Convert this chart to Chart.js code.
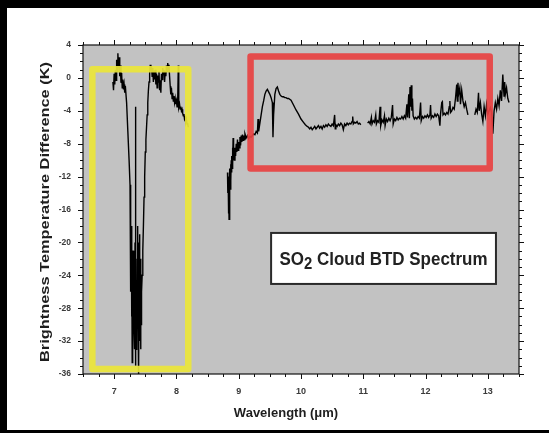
<!DOCTYPE html>
<html>
<head>
<meta charset="utf-8">
<script src="https://cdn.jsdelivr.net/npm/chart.js@4.4.1/dist/chart.umd.min.js"></script>
<style>
html,body{margin:0;padding:0;background:#000;}
canvas{display:block;}
</style>
</head>
<body>
<canvas id="c" width="549" height="433"></canvas>
<script>
// ---- Data (null = gap in the spectrum) ----
const wavelength = [
 6.98,6.99,7.00,7.01,7.02,7.03,7.04,7.05,7.06,7.07,7.08,7.09,7.10,7.11,7.12,7.13,7.14,7.15,7.16,7.17,
 7.18,7.20,7.22,7.24,7.255,7.26,7.265,7.27,7.275,7.28,7.285,7.29,7.295,7.30,7.305,7.31,7.315,7.32,7.325,7.33,
 7.335,7.34,7.345,7.35,7.355,7.36,7.365,7.37,7.375,7.38,7.385,7.39,7.395,7.40,7.405,7.41,7.415,7.42,7.425,7.43,
 7.435,7.44,7.45,7.46,7.47,7.48,7.49,7.50,7.51,7.52,7.53,7.54,7.55,7.56,7.57,7.58,7.59,7.60,7.61,7.62,
 7.63,7.64,7.65,7.66,7.67,7.68,7.69,7.70,7.71,7.72,7.73,7.74,7.75,7.76,7.77,7.78,7.79,7.80,7.81,7.82,
 7.83,7.84,7.85,7.86,7.87,7.88,7.89,7.90,7.91,7.92,7.93,7.94,7.95,7.96,7.97,7.98,7.99,8.00,8.01,8.02,
 8.03,8.035,8.04,8.05,8.06,8.07,8.08,8.09,8.10,8.11,8.12,8.13,8.14,8.15,8.16,8.17,8.18,8.19,
 8.50,
 8.82,8.825,8.83,8.835,8.84,8.845,8.85,8.855,8.86,8.865,8.87,8.875,8.88,8.885,8.89,8.895,8.90,8.905,8.91,8.915,
 8.92,8.93,8.94,8.95,8.96,8.97,8.98,8.99,9.00,9.01,9.02,9.03,9.04,9.05,9.06,9.07,9.08,9.09,9.10,9.12,
 9.14,9.16,9.18,9.20,9.22,9.24,9.26,9.28,9.30,9.31,9.32,9.34,9.36,9.38,9.40,9.42,9.44,9.46,9.48,9.50,
 9.52,9.54,9.55,9.56,9.58,9.60,9.62,9.64,9.66,9.68,9.70,9.72,9.74,9.76,9.78,9.80,9.84,9.88,9.92,9.96,
 10.00,10.04,10.07,10.10,10.12,10.14,10.16,10.18,10.20,10.22,10.24,10.26,10.28,10.30,10.32,10.34,10.36,10.38,10.40,10.42,
 10.44,10.46,10.48,10.50,10.52,10.54,10.55,10.56,10.58,10.60,10.62,10.64,10.66,10.68,10.70,10.72,10.74,10.76,10.78,10.80,
 10.82,10.83,10.84,10.86,10.88,10.90,10.92,10.94,10.96,
 11.02,
 11.07,11.09,11.11,11.13,11.14,11.16,11.18,11.20,11.21,11.23,11.25,11.27,11.28,11.30,11.32,11.34,11.35,11.37,11.39,11.41,
 11.43,11.45,11.47,11.48,11.50,11.52,11.54,11.56,11.58,11.60,11.62,11.64,11.66,11.68,11.70,11.71,11.73,11.74,11.75,11.76,
 11.77,11.78,11.79,11.80,11.82,11.84,11.86,11.88,11.90,11.92,11.93,11.95,11.97,11.99,12.01,12.03,12.05,12.07,12.08,12.09,
 12.11,12.13,12.15,12.17,12.19,12.21,12.23,12.24,12.26,12.27,12.28,12.30,12.32,12.34,12.36,12.38,12.39,12.40,12.42,12.44,
 12.46,12.48,12.50,12.51,12.52,12.53,12.55,12.56,12.58,12.60,12.62,12.64,12.66,12.68,
 12.73,
 12.79,12.81,12.83,12.85,12.86,12.88,12.90,12.92,12.94,12.96,12.98,13.00,13.02,13.04,13.06,13.08,13.10,13.12,13.14,13.16,
 13.18,13.20,13.22,13.24,13.25,13.26,13.27,13.28,13.30,13.32,13.34
];
const btd = [
 -0.5,-1.5,0.5,-0.8,1.0,-0.3,2.2,0.8,3.0,1.2,2.5,0.2,1.5,-0.6,0.6,-1.2,-0.2,-1.4,-0.8,-1.8,
 -1.0,-3,-6.5,-10,-13,-20,-15,-26,-18,-29,-22,-34.6,-25,-31,-21,-28,-24,-31,-27,-33,
 -20,-3.5,-35,-29,-33,-27,-31,-22,-29,-18,-30,-20,-36,-24,-32,-19,-28,-22,-33,-25,
 -30,-26,-24,-21,-18,-14.5,-12,-9,-7.5,-6,-4.5,-3,-1.5,-0.5,0.5,1.6,0.8,1.4,0.2,1.2,
 -0.5,0.9,-0.2,1.0,-0.8,0.5,-1.2,0.3,-0.5,0.8,-1.5,-0.3,-1.8,0.5,-0.2,1.2,0.4,1.0,-0.5,0.8,
 0.2,1.5,0.8,1.8,1.2,1.6,0.2,-1.0,-2.0,-1.2,-2.5,-1.8,-2.8,-2.2,-3.0,-2.5,-3.2,-2.8,-3.5,-3.0,
 1.5,-3.0,-3.6,-3.2,-3.8,-3.5,-4.0,-3.8,-4.3,-4.6,-4.4,-5.0,-4.8,-5.3,-5.0,-5.6,-5.5,-6.0,
 null,
 -11.5,-14,-12,-16.5,-13,-17.2,-12.5,-15,-11,-13.5,-10.5,-12.5,-10,-11.5,-9.5,-11,-8.5,-10.5,-7.3,-10,
 -9,-10,-8.5,-9.5,-8,-9,-7.5,-8.8,-7.8,-8.5,-7.2,-8.2,-7.0,-7.8,-6.9,-7.6,-7.0,-7.5,-6.8,-7.3,
 -7.0,-7.4,-7.1,-7.2,-7.0,-6.8,-6.9,-6.5,-6.7,-5.0,-6.5,-5.5,-4.5,-3.5,-2.8,-2.0,-1.6,-1.4,-1.7,-2.0,
 -2.4,-3.0,-7.2,-4.5,-2.0,-1.3,-1.1,-1.6,-2.0,-2.2,-2.3,-2.3,-2.4,-2.4,-2.5,-2.5,-2.7,-3.3,-3.9,-4.4,
 -5.0,-5.4,-5.7,-5.9,-6.0,-6.2,-6.0,-6.3,-6.1,-5.9,-6.2,-6.0,-5.8,-6.1,-5.9,-6.2,-5.8,-6.0,-5.7,-5.9,
 -5.6,-5.8,-5.9,-5.6,-5.8,-4.5,-6.2,-5.7,-5.9,-5.6,-5.8,-5.5,-5.7,-6.3,-5.6,-5.8,-5.5,-5.7,-5.5,-5.6,
 -5.3,-4.7,-5.6,-5.4,-5.5,-5.3,-5.6,-5.5,-5.7,
 null,
 -5.5,-5.3,-5.6,-4.8,-5.6,-5.2,-5.4,-4.5,-5.6,-5.2,-5.4,-3.5,-5.8,-5.1,-5.4,-4.6,-5.8,-5.0,-5.3,-4.9,
 -5.2,-4.8,-3.3,-5.6,-5.0,-5.2,-4.8,-5.1,-4.9,-5.0,-4.7,-5.0,-4.6,-4.9,-3.2,-4.8,-2.0,-4.9,-1.1,-3.5,
 -0.9,-4.0,-2.5,-4.6,-5.0,-4.8,-5.0,-4.7,-4.9,-3.0,-5.2,-4.7,-4.9,-4.6,-4.8,-4.5,-4.8,-4.5,-3.3,-4.9,
 -4.6,-4.8,-4.4,-4.7,-4.4,-4.6,-5.8,-4.4,-3.0,-2.9,-4.5,-4.3,-4.5,-4.2,-4.4,-3.5,-2.8,-4.2,-4.0,-3.6,
 -3.8,-2.5,-0.8,-2.8,-0.6,-2.0,-1.2,-3.2,-1.5,-2.8,-3.5,-3.0,-3.8,-4.5,
 null,
 -4.5,-3.8,-4.2,-1.8,-4.0,-3.0,-4.4,-5.3,-3.5,-4.6,-3.2,-4.4,-4.0,-3.6,-4.2,-6.8,-4.0,-3.0,-3.8,-2.5,
 -3.4,-1.5,-2.8,0.4,-1.0,-2.2,-0.5,-2.0,-1.2,-2.5,-3.0
];

// Axis ranges / tick labels
const xRange = [6.5, 13.5];
const yRange = [-36, 4];
const xTickValues = [7, 8, 9, 10, 11, 12, 13];
const yTickValues = [-36, -32, -28, -24, -20, -16, -12, -8, -4, 0, 4];
const xTitle = 'Wavelength (\u03BCm)';
const yTitle = 'Brightness Temperature Difference (K)';
const boxTitle = ['SO', '2', ' Cloud BTD Spectrum'];
// Highlight rectangles in data units [x1, x2, y1, y2]
const yellowBox = [6.65, 8.19, 1.05, -35.4];
const redBox = [9.19, 13.03, 2.6, -11.0];
const labelBox = [9.52, 13.13, -18.85, -25.05];

const points = wavelength.map((w, i) => ({x: w, y: btd[i]}));

const FONT = "'Liberation Sans', Arial, sans-serif";

function rectPx(chart, b) {
  const xs = chart.scales.x, ys = chart.scales.y;
  const x1 = xs.getPixelForValue(b[0]), x2 = xs.getPixelForValue(b[1]);
  const y1 = ys.getPixelForValue(b[2]), y2 = ys.getPixelForValue(b[3]);
  return [x1, y1, x2 - x1, y2 - y1];
}

const decor = {
  id: 'decor',
  beforeDraw(chart) {
    const c = chart.ctx, a = chart.chartArea;
    c.save();
    c.fillStyle = '#000'; c.fillRect(0, 0, 549, 433);
    c.fillStyle = '#fff'; c.fillRect(7, 8, 542, 422);
    c.fillStyle = '#c2c2c2'; c.fillRect(a.left, a.top, a.right - a.left, a.bottom - a.top);
    c.restore();
  },
  afterDatasetsDraw(chart) {
    const c = chart.ctx;
    c.save();
    c.lineJoin = 'round';
    c.lineWidth = 6.5;
    c.strokeStyle = 'rgba(236,230,58,0.92)';
    c.strokeRect(...rectPx(chart, yellowBox));
    c.strokeStyle = 'rgba(232,66,66,0.92)';
    c.strokeRect(...rectPx(chart, redBox));
    c.restore();
  },
  afterDraw(chart) {
    const c = chart.ctx, a = chart.chartArea;
    const xs = chart.scales.x, ys = chart.scales.y;
    c.save();
    // frame
    c.strokeStyle = '#111'; c.lineWidth = 1.2;
    c.strokeRect(a.left, a.top, a.right - a.left, a.bottom - a.top);
    // ticks (major + minor) on four sides
    c.lineWidth = 1;
    c.beginPath();
    for (let i = 26; i <= 54; i++) {
      const px = Math.round(xs.getPixelForValue(i / 4)) + 0.5;
      const len = (i % 4 === 0) ? 5 : 3;
      c.moveTo(px, a.bottom); c.lineTo(px, a.bottom + len);
      c.moveTo(px, a.top); c.lineTo(px, a.top - len);
    }
    for (let v = yRange[0]; v <= yRange[1]; v++) {
      const py = Math.round(ys.getPixelForValue(v)) + 0.5;
      const len = (v % 4 === 0) ? 5 : 3;
      c.moveTo(a.left, py); c.lineTo(a.left - len, py);
      c.moveTo(a.right, py); c.lineTo(a.right + len, py);
    }
    c.stroke();

    // axis titles
    c.fillStyle = '#1e1e1e';
    c.font = 'bold 13px ' + FONT;
    c.textAlign = 'center'; c.textBaseline = 'alphabetic';
    c.fillText(xTitle, 286, 417);

    c.save();
    c.translate(49, 212);
    c.rotate(-Math.PI / 2);
    c.font = 'bold 12.5px ' + FONT;
    const w = c.measureText(yTitle).width;
    c.scale(300 / w, 1);
    c.fillText(yTitle, 0, 0);
    c.restore();

    // label box
    const r = rectPx(chart, labelBox);
    c.fillStyle = '#fff'; c.fillRect(...r);
    c.strokeStyle = '#2a2a2a'; c.lineWidth = 2; c.strokeRect(...r);
    c.font = 'bold 16px ' + FONT;
    const w1 = c.measureText(boxTitle[0]).width;
    c.font = 'bold 14px ' + FONT;
    const w2 = c.measureText(boxTitle[1]).width;
    c.font = 'bold 16px ' + FONT;
    const w3 = c.measureText(boxTitle[2]).width;
    const total = w1 + w2 + w3;
    const sx = 208 / total;
    const cx = r[0] + r[2] / 2, cy = r[1] + r[3] / 2;
    c.save();
    c.translate(cx - 104, cy + 7);
    c.scale(sx, 1.12);
    c.fillStyle = '#222';
    c.textAlign = 'left';
    c.font = 'bold 16px ' + FONT;
    c.fillText(boxTitle[0], 0, 0);
    c.font = 'bold 14px ' + FONT;
    c.fillText(boxTitle[1], w1, 3.5);
    c.font = 'bold 16px ' + FONT;
    c.fillText(boxTitle[2], w1 + w2, 0);
    c.restore();
    c.restore();
  }
};

new Chart(document.getElementById('c'), {
  type: 'line',
  data: {
    datasets: [{
      data: points,
      borderColor: '#000',
      borderWidth: 1.4,
      pointRadius: 0,
      tension: 0,
      spanGaps: false
    }]
  },
  options: {
    responsive: false,
    animation: false,
    devicePixelRatio: 1,
    layout: {padding: {left: 0, top: 45, right: 30, bottom: 0}},
    plugins: {legend: {display: false}, tooltip: {enabled: false}},
    scales: {
      x: {
        type: 'linear', min: xRange[0], max: xRange[1],
        grid: {display: false, drawTicks: false},
        border: {display: false},
        afterBuildTicks: s => { s.ticks = xTickValues.map(v => ({value: v})); },
        afterFit: s => { s.height = 59; },
        ticks: {autoSkip: false, maxRotation: 0, padding: 12, color: '#3a3a3a',
                font: {family: FONT, size: 9, weight: 'bold'}}
      },
      y: {
        min: yRange[0], max: yRange[1],
        grid: {display: false, drawTicks: false},
        border: {display: false},
        afterBuildTicks: s => { s.ticks = yTickValues.map(v => ({value: v})); },
        afterFit: s => { s.width = 83; },
        ticks: {autoSkip: false, padding: 12, color: '#3a3a3a',
                font: {family: FONT, size: 8.5, weight: 'bold'}}
      }
    }
  },
  plugins: [decor]
});
</script>
</body>
</html>
